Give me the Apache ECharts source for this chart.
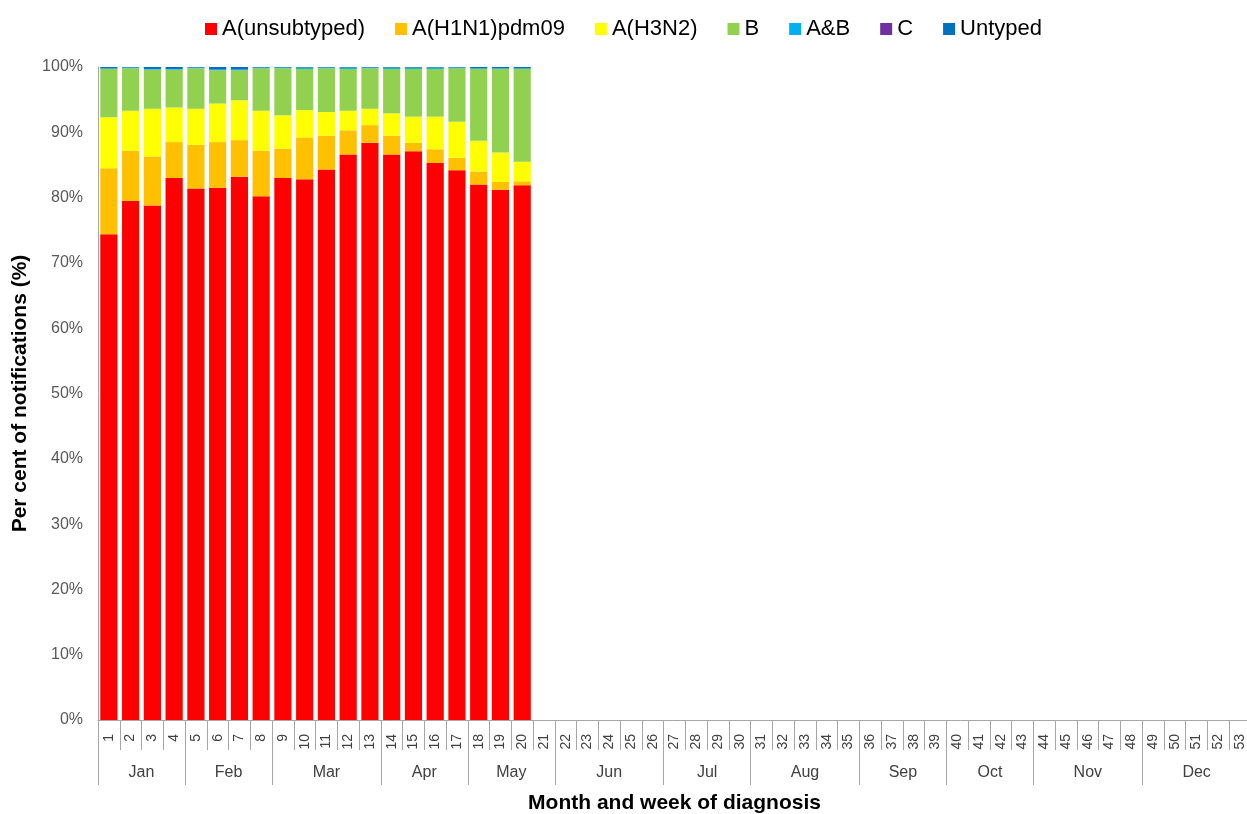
<!DOCTYPE html>
<html>
<head>
<meta charset="utf-8">
<script src="https://cdn.jsdelivr.net/npm/echarts@6/dist/echarts.min.js"></script>
<style>
  html, body { margin: 0; padding: 0; background: #fff; }
  #chart { width: 1247px; height: 814px; }
</style>
</head>
<body>
<div id="chart"></div>
<script>
// weeks 1..53, months with how many weeks each one holds
var weeks = [];
for (var w = 1; w <= 53; w++) weeks.push(String(w));
var months = ['Jan', 'Feb', 'Mar', 'Apr', 'May', 'Jun', 'Jul', 'Aug', 'Sep', 'Oct', 'Nov', 'Dec'];
var monthWeeks = [4, 4, 5, 4, 4, 5, 4, 5, 4, 4, 5, 5];

// per cent of notifications, weeks 1-20 (rest of year has no data yet)
var unsubtyped = [74.4, 79.5, 78.8, 83.0, 81.4, 81.5, 83.2, 80.2, 83.0, 82.8, 84.3, 86.6, 88.4, 86.6, 87.1, 85.3, 84.2, 82.0, 81.2, 81.9];
var h1n1 = [10.1, 7.7, 7.5, 5.5, 6.7, 7.0, 5.6, 7.0, 4.5, 6.4, 5.2, 3.7, 2.7, 2.9, 1.3, 2.1, 1.9, 2.0, 1.2, 0.6];
var h3n2 = [7.8, 6.1, 7.3, 5.3, 5.5, 5.9, 6.1, 6.1, 5.1, 4.2, 3.6, 3.0, 2.5, 3.4, 4.0, 5.0, 5.5, 4.7, 4.5, 3.0];
var typeB = [7.4, 6.5, 6.0, 5.8, 6.2, 5.1, 4.6, 6.5, 7.2, 6.3, 6.7, 6.4, 6.2, 6.8, 7.3, 7.3, 8.2, 11.0, 12.8, 14.2];
var aAndB = [0.1, 0.1, 0.1, 0.1, 0.1, 0.1, 0.1, 0.1, 0.1, 0.2, 0.1, 0.2, 0.1, 0.2, 0.2, 0.2, 0.1, 0.1, 0.1, 0.1];
var typeC = [0, 0, 0, 0, 0, 0, 0, 0, 0, 0, 0, 0, 0, 0, 0, 0, 0, 0, 0, 0];
var untyped = [0.2, 0.1, 0.3, 0.3, 0.1, 0.4, 0.4, 0.1, 0.1, 0.1, 0.1, 0.1, 0.1, 0.1, 0.1, 0.1, 0.1, 0.2, 0.2, 0.2];

var yTicks = [0, 10, 20, 30, 40, 50, 60, 70, 80, 90, 100];

// month boundaries and centres on a 0..53 scale
var bounds = [0], centres = [];
monthWeeks.forEach(function (n, i) {
    centres.push(bounds[i] + n / 2);
    bounds.push(bounds[i] + n);
});
var weekBounds = [];
for (var b = 0; b <= 53; b++) weekBounds.push(b);

var chart = echarts.init(document.getElementById('chart'));
var font = 'Liberation Sans';

function bar(name, data, color) {
    return {
        name: name,
        type: 'bar',
        stack: 'total',
        data: data,
        barCategoryGap: '21%',
        itemStyle: { color: color },
        emphasis: { disabled: true }
    };
}

chart.setOption({
    animation: false,
    textStyle: { fontFamily: font },
    legend: {
        top: 13,
        left: 'center',
        icon: 'rect',
        itemWidth: 12,
        itemHeight: 12,
        itemGap: 30,
        textStyle: { fontSize: 22, color: '#000', fontFamily: font }
    },
    grid: { left: 98, top: 67, width: 1153, bottom: 94, containLabel: false, outerBoundsMode: 'none' },
    xAxis: [{
        type: 'category',
        data: weeks,
        axisLine: { lineStyle: { color: '#a6a6a6' } },
        axisTick: { show: false },
        axisLabel: { rotate: 90, fontSize: 14, color: '#404040', margin: 14, interval: 0 }
    }, {
        // week separators
        type: 'value',
        position: 'bottom',
        min: 0,
        max: 53,
        axisLine: { show: false },
        splitLine: { show: false },
        axisTick: { show: true, length: 30, customValues: weekBounds, lineStyle: { color: '#a6a6a6' } },
        axisLabel: { show: false }
    }, {
        // month separators and names
        type: 'value',
        position: 'bottom',
        min: 0,
        max: 53,
        axisLine: { show: false },
        splitLine: { show: false },
        axisTick: { show: true, length: 65, customValues: bounds, lineStyle: { color: '#a6a6a6' } },
        axisLabel: {
            customValues: centres,
            fontSize: 16,
            color: '#404040',
            margin: 45,
            formatter: function (v) {
                var i = centres.indexOf(v);
                return i >= 0 ? months[i] : '';
            }
        },
        name: 'Month and week of diagnosis',
        nameLocation: 'middle',
        nameGap: 73,
        nameTextStyle: { fontSize: 21, fontWeight: 'bold', color: '#000' }
    }],
    yAxis: {
        type: 'value',
        min: yTicks[0],
        max: yTicks[yTicks.length - 1],
        interval: 10,
        axisLine: { show: true, lineStyle: { color: '#a6a6a6' } },
        axisTick: { show: false },
        splitLine: { show: false },
        axisLabel: { formatter: '{value}%', fontSize: 16, color: '#595959', margin: 15 },
        name: 'Per cent of notifications (%)',
        nameLocation: 'middle',
        nameGap: 66,
        nameTextStyle: { fontSize: 21, fontWeight: 'bold', color: '#000' }
    },
    series: [
        bar('A(unsubtyped)', unsubtyped, '#ff0000'),
        bar('A(H1N1)pdm09', h1n1, '#ffc000'),
        bar('A(H3N2)', h3n2, '#ffff00'),
        bar('B', typeB, '#92d050'),
        bar('A&B', aAndB, '#00b0f0'),
        bar('C', typeC, '#7030a0'),
        bar('Untyped', untyped, '#0070c0')
    ]
});
</script>
</body>
</html>
